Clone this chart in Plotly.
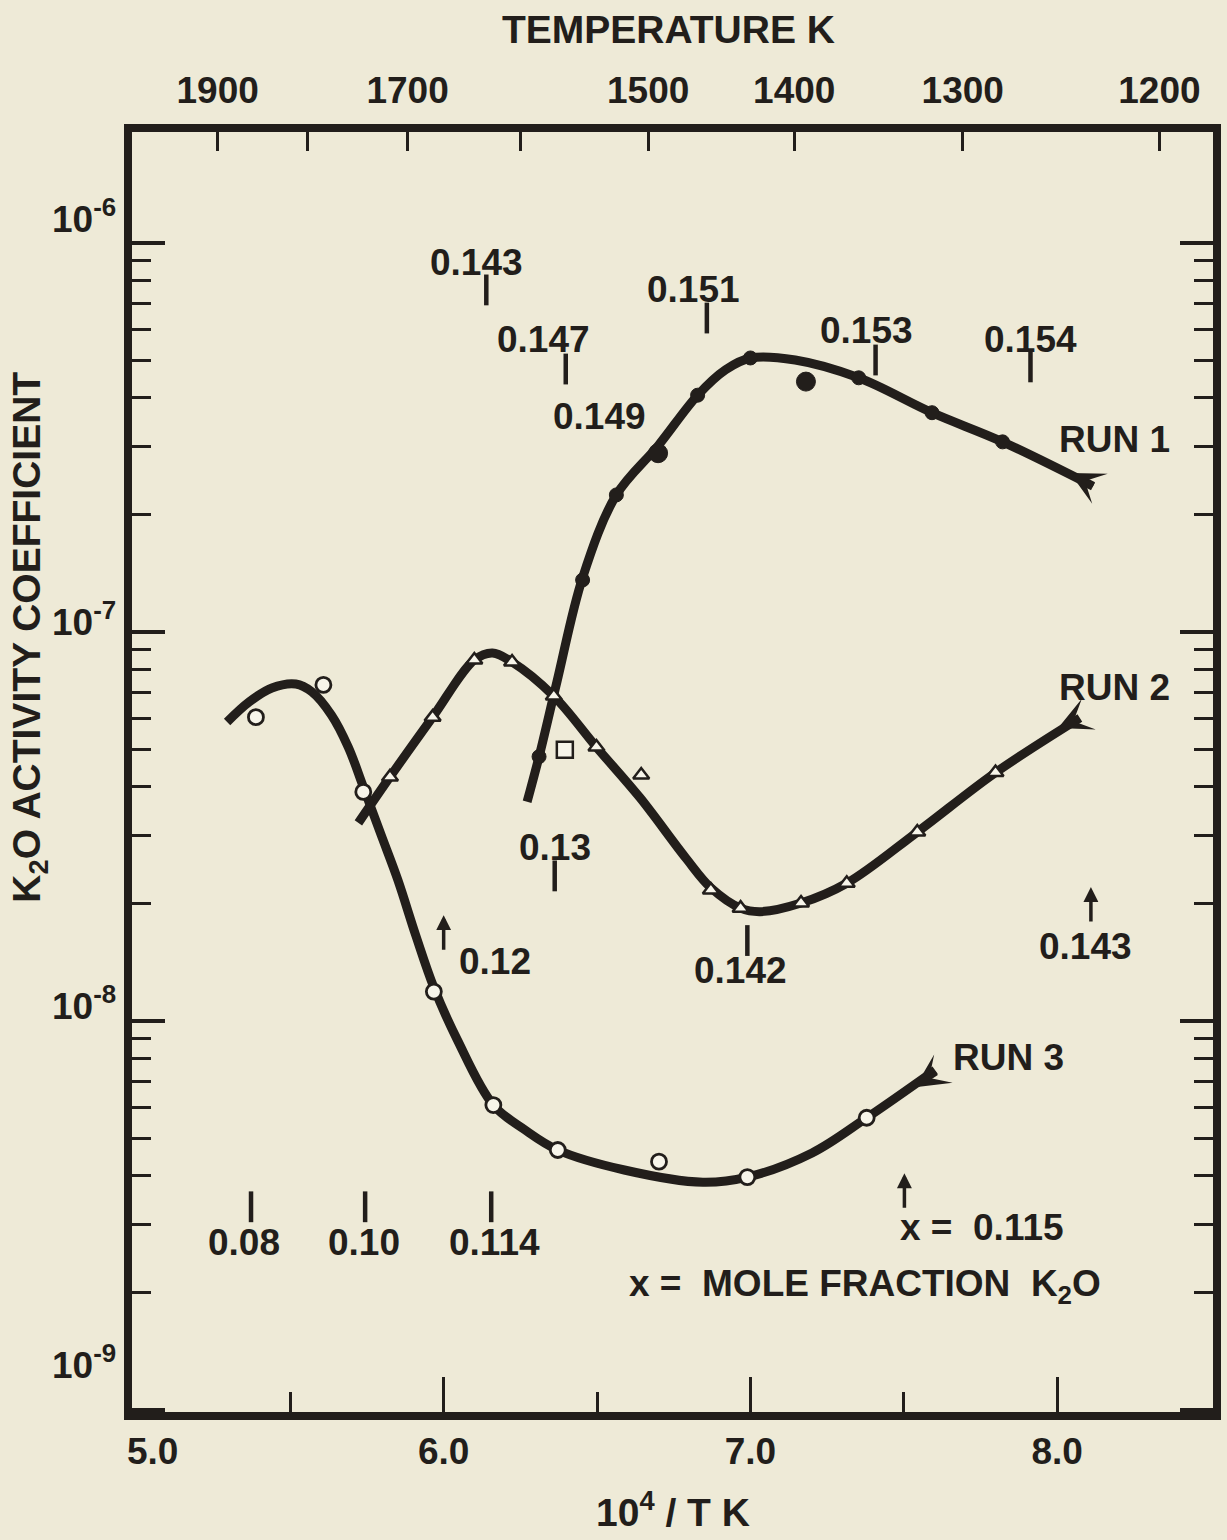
import numpy as np
import plotly.graph_objects as go

INK = "#221e1b"
PAPER = "#eeead7"
MARK_FILL = "#f7f5ea"
FONT = "Liberation Sans, Arial, Helvetica, sans-serif"

# ---------------- data ----------------
# x = 10^4 / T (K^-1), y = K2O activity coefficient
run1_x = [6.311, 6.453, 6.563, 6.699, 6.828, 7.000, 7.181, 7.353, 7.592, 7.822]
run1_y = [4.78e-8, 1.36e-7, 2.25e-7, 2.88e-7, 4.06e-7, 5.06e-7, 4.40e-7, 4.50e-7, 3.66e-7, 3.08e-7]
run1_curve_x = [6.272, 6.311, 6.369, 6.453, 6.563, 6.699, 6.828, 6.919, 7.000, 7.146, 7.353, 7.592, 7.822, 8.117]
run1_curve_y = [3.66e-8, 4.78e-8, 7.43e-8, 1.38e-7, 2.25e-7, 3.01e-7, 4.06e-7, 4.72e-7, 5.06e-7, 5.00e-7, 4.50e-7, 3.66e-7, 3.08e-7, 2.37e-7]

run2_x = [5.825, 5.964, 6.100, 6.223, 6.359, 6.498, 6.644, 6.871, 6.968, 7.165, 7.314, 7.544, 7.799]
run2_y = [4.24e-8, 6.04e-8, 8.47e-8, 8.37e-8, 6.84e-8, 5.06e-8, 4.29e-8, 2.17e-8, 1.95e-8, 2.01e-8, 2.26e-8, 3.06e-8, 4.35e-8]
run2_square_x = [6.395]
run2_square_y = [4.98e-8]
run2_curve_x = [5.722, 5.825, 5.964, 6.100, 6.159, 6.223, 6.359, 6.498, 6.640, 6.790, 6.871, 6.968, 7.032, 7.165, 7.314, 7.544, 7.799, 8.074]
run2_curve_y = [3.23e-8, 4.24e-8, 6.04e-8, 8.47e-8, 8.83e-8, 8.37e-8, 6.84e-8, 5.06e-8, 3.75e-8, 2.62e-8, 2.20e-8, 1.95e-8, 1.91e-8, 2.01e-8, 2.26e-8, 3.06e-8, 4.35e-8, 6.01e-8]

run3_x = [5.388, 5.608, 5.738, 5.968, 6.162, 6.372, 6.702, 6.990, 7.379]
run3_y = [6.04e-8, 7.31e-8, 3.88e-8, 1.19e-8, 6.08e-9, 4.66e-9, 4.35e-9, 3.97e-9, 5.64e-9]
run3_curve_x = [5.294, 5.366, 5.440, 5.518, 5.570, 5.634, 5.689, 5.738, 5.796, 5.851, 5.909, 5.968,
                6.045, 6.162, 6.265, 6.372, 6.589, 6.845, 6.990, 7.201, 7.379, 7.602]
run3_curve_y = [5.87e-8, 6.61e-8, 7.18e-8, 7.35e-8, 7.02e-8, 6.12e-8, 5.06e-8, 4.00e-8, 3.01e-8, 2.30e-8, 1.66e-8, 1.22e-8,
                8.93e-9, 6.08e-9, 5.25e-9, 4.66e-9, 4.14e-9, 3.85e-9, 3.97e-9, 4.58e-9, 5.64e-9, 7.48e-9]

# ends of the curves (arrow tips) and run labels
run_names = ["RUN 1", "RUN 2", "RUN 3"]
run_label_x = [8.188, 8.188, 7.841]
run_label_y = [3.12e-7, 7.18e-8, 8.04e-9]
run_tip_x = [8.042, 8.003, 7.537]
run_tip_y = [2.56e-7, 5.66e-8, 6.76e-9]

# mole-fraction labels
comp_text = ["0.143", "0.147", "0.151", "0.153", "0.154", "0.149", "0.13", "0.12",
             "0.142", "0.143", "0.08", "0.10", "0.114", "x =  0.115"]
comp_x = [6.107, 6.324, 6.816, 7.379, 7.913, 6.508, 6.362, 6.168, 6.968, 8.091, 5.350, 5.741, 6.165, 7.754]
comp_y = [8.89e-7, 5.66e-7, 7.57e-7, 5.97e-7, 5.66e-7, 3.57e-7, 2.80e-8, 1.42e-8,
          1.35e-8, 1.55e-8, 2.69e-9, 2.69e-9, 2.69e-9, 2.94e-9]
# short marks under / over the mole-fraction labels
mark_x = [6.139, 6.398, 6.858, 7.408, 7.913, 6.362, 6.990, 5.372, 5.744, 6.155]
mark_y = [7.57e-7, 4.74e-7, 6.41e-7, 5.00e-7, 4.80e-7, 2.36e-8, 1.61e-8, 3.33e-9, 3.33e-9, 3.33e-9]
# small upward arrows
up_arrow_x = [6.000, 8.110, 7.502]
up_arrow_y = [1.87e-8, 2.21e-8, 4.06e-9]

legend_note = "x =  MOLE FRACTION  K<sub>2</sub>O"
legend_x, legend_y = 7.372, 2.09e-9

# axes
x_ticks = [6.0, 7.0, 8.0]
x_tick_labels = ["6.0", "7.0", "8.0"]
x_first_label = "5.0"
x_minor = [5.5, 6.5, 7.5]
temp_labelled = [1900, 1700, 1500, 1400, 1300, 1200]
temp_unlabelled = [1800, 1600]
y_decades = [1e-9, 1e-8, 1e-7, 1e-6]
y_labels = ["10<sup>-9</sup>", "10<sup>-8</sup>", "10<sup>-7</sup>", "10<sup>-6</sup>"]
y_label_pos = [-8.877, -7.956, -6.969, -5.931]   # log10 of label centres
y_minor = [m * d for d in [1e-9, 1e-8, 1e-7] for m in range(2, 10)]

X_RANGE = [4.984, 8.508]
Y_RANGE = [-9.005, -5.715]
TXT = 37

# ---------------- figure ----------------
fig = go.Figure()

for cx, cy in [(run1_curve_x, run1_curve_y), (run2_curve_x, run2_curve_y), (run3_curve_x, run3_curve_y)]:
    fig.add_trace(go.Scatter(x=cx, y=cy, mode="lines", hoverinfo="skip",
                             line=dict(color=INK, width=9, shape="spline", smoothing=1.0)))

fig.add_trace(go.Scatter(x=run1_x, y=run1_y, mode="markers", opacity=1,
                         marker=dict(symbol="circle", size=[14, 14, 14, 19, 14, 14, 19, 14, 14, 14],
                                     color=INK, opacity=1, line=dict(color=INK, width=1))))
fig.add_trace(go.Scatter(x=run2_x, y=run2_y, mode="markers",
                         marker=dict(symbol="triangle-up", size=14, color=MARK_FILL,
                                     line=dict(color=INK, width=2.5))))
fig.add_trace(go.Scatter(x=run2_square_x, y=run2_square_y, mode="markers",
                         marker=dict(symbol="square", size=16, color=MARK_FILL,
                                     line=dict(color=INK, width=2.5))))
fig.add_trace(go.Scatter(x=run3_x, y=run3_y, mode="markers",
                         marker=dict(symbol="circle", size=15, color=MARK_FILL,
                                     line=dict(color=INK, width=2.8))))
fig.add_trace(go.Scatter(x=mark_x, y=mark_y, mode="markers", hoverinfo="skip",
                         marker=dict(symbol="line-ns", size=22, color=INK,
                                     line=dict(color=INK, width=4.5))))
# trace on the temperature axis so that it is drawn
fig.add_trace(go.Scatter(x=[1e4 / t for t in temp_labelled], y=[np.nan] * len(temp_labelled),
                         xaxis="x2", mode="markers", hoverinfo="skip", showlegend=False))

ann = []
for t, x, y in zip(comp_text, comp_x, comp_y):
    ann.append(dict(x=x, y=np.log10(y), text=t, showarrow=False, font=dict(size=TXT)))
for t, x, y in zip(run_names, run_label_x, run_label_y):
    ann.append(dict(x=x, y=np.log10(y), text=t, showarrow=False, font=dict(size=TXT)))
ann.append(dict(x=legend_x, y=np.log10(legend_y), text=legend_note, showarrow=False, font=dict(size=TXT)))

tails = [(25, 13), (22, -10), (23, -15)]
for (x, y), (ax, ay) in zip(zip(run_tip_x, run_tip_y), tails):
    ann.append(dict(x=x, y=np.log10(y), ax=ax, ay=ay, text="", showarrow=True,
                    arrowhead=3, arrowsize=1.25, arrowwidth=4.5, arrowcolor=INK))
for x, y in zip(up_arrow_x, up_arrow_y):
    ann.append(dict(x=x, y=np.log10(y), ax=0, ay=36, text="", showarrow=True,
                    arrowhead=2, arrowsize=0.85, arrowwidth=3.5, arrowcolor=INK))
for t, y in zip(y_labels, y_label_pos):
    ann.append(dict(xref="paper", x=-0.0129, y=y, text=t, showarrow=False,
                    xanchor="right", yanchor="middle", font=dict(size=TXT)))
ann.append(dict(x=5.05, yref="paper", y=-0.0305, text=x_first_label, showarrow=False,
                yanchor="middle", font=dict(size=TXT)))

ann.append(dict(xref="paper", yref="paper", x=0.4965, y=1.0797, text="TEMPERATURE K",
                showarrow=False, yanchor="middle", font=dict(size=39)))
ann.append(dict(xref="paper", yref="paper", x=0.5, y=-0.076, text="10<sup>4</sup> / T K",
                showarrow=False, yanchor="middle", font=dict(size=39)))
ann.append(dict(xref="paper", yref="paper", x=-0.0946, y=0.6055, text="K<sub>2</sub>O ACTIVITY COEFFICIENT",
                showarrow=False, textangle=-90, xanchor="center", yanchor="middle", font=dict(size=39)))

fig.update_layout(
    width=1227, height=1540,
    margin=dict(l=132, r=6, t=132, b=128),
    paper_bgcolor=PAPER, plot_bgcolor=PAPER,
    showlegend=False,
    font=dict(family=FONT, size=TXT, color=INK, weight="bold"),
    annotations=ann,
    xaxis=dict(range=X_RANGE, showgrid=False, zeroline=False,
               showline=True, linewidth=8, linecolor=INK, mirror=False,
               ticks="inside", ticklen=35, tickwidth=3, tickcolor=INK,
               tickvals=x_ticks, ticktext=x_tick_labels, ticklabelstandoff=0,
               tickfont=dict(size=TXT),
               minor=dict(tickmode="array", tickvals=x_minor, ticks="inside",
                          ticklen=20, tickwidth=3, tickcolor=INK, showgrid=False)),
    xaxis2=dict(range=X_RANGE, overlaying="x", side="top", showgrid=False, zeroline=False,
                showline=True, linewidth=8, linecolor=INK,
                ticks="inside", ticklen=19, tickwidth=3, tickcolor=INK,
                tickvals=[1e4 / t for t in temp_labelled], ticktext=[str(t) for t in temp_labelled],
                ticklabelstandoff=6, tickfont=dict(size=TXT),
                minor=dict(tickmode="array", tickvals=[1e4 / t for t in temp_unlabelled],
                           ticks="inside", ticklen=19, tickwidth=3, tickcolor=INK, showgrid=False)),
    yaxis=dict(type="log", range=Y_RANGE, showgrid=False, zeroline=False,
               showline=True, linewidth=8, linecolor=INK, mirror="ticks",
               ticks="inside", ticklen=33, tickwidth=3.5, tickcolor=INK,
               tickvals=y_decades, showticklabels=False,
               minor=dict(tickmode="array", tickvals=y_minor, ticks="inside",
                          ticklen=19, tickwidth=3, tickcolor=INK, showgrid=False)),
)

fig.write_html("out.html")
